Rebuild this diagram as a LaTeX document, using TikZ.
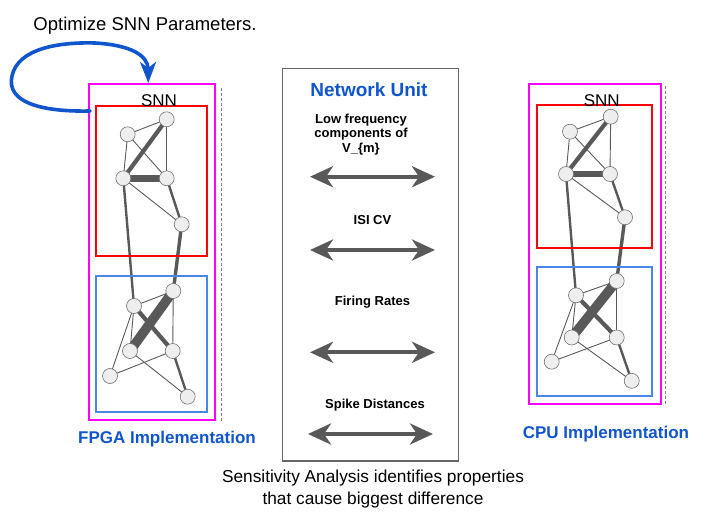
\documentclass[tikz,border=0pt]{standalone}
\usepackage{fontspec}
\setmainfont{Liberation Sans}
\usetikzlibrary{arrows.meta,backgrounds}
\definecolor{edgegray}{HTML}{595959}
\definecolor{nodefill}{HTML}{EEEEEE}
\definecolor{mag}{HTML}{FF00FF}
\definecolor{redbox}{HTML}{FF0000}
\definecolor{bluebox}{HTML}{4A86E8}
\definecolor{titleblue}{HTML}{1155CC}
\definecolor{boxgray}{HTML}{666666}
\newcommand{\snnedges}[1]{%
  \draw[ethin] (#1n1.center) -- (#1n2.center);
  \draw[ethin] (#1n1.center) -- (#1n3.center);
  \draw[ethin] (#1n2.center) -- (#1n4.center);
  \draw[ethin] (#1n1.center) -- (#1n4.center);
  \draw[ethin] (#1n3.center) -- (#1n5.center);
  \draw[ethin] (#1n6.center) -- (#1n7.center);
  \draw[ethin] (#1n7.center) -- (#1n9.center);
  \draw[ethin] (#1n6.center) -- (#1n8.center);
  \draw[ethin] (#1n6.center) -- (#1n10.center);
  \draw[ethin] (#1n10.center) -- (#1n9.center);
  \draw[ethin] (#1n8.center) -- (#1n11.center);
  \draw[emed] (#1n4.center) -- (#1n5.center);
  \draw[emed] (#1n3.center) -- (#1n6.center);
  \draw[emed] (#1n9.center) -- (#1n11.center);
  \draw[emedb] (#1n5.center) -- (#1n7.center);
  \draw[ethick] (#1n2.center) -- (#1n3.center);
  \draw[ethick] (#1n6.center) -- (#1n9.center);
  \draw[evthick] (#1n3.center) -- (#1n4.center);
  \draw[ebar] (#1n7.center) -- (#1n8.center);
}
\begin{document}
\begin{tikzpicture}[x=1pt,y=-1pt,
  neuron/.style={circle, draw=edgegray!85, fill=nodefill, minimum size=15pt, inner sep=0pt, line width=0.6pt},
  ethin/.style={draw=edgegray, line width=0.9pt},
  emed/.style={draw=edgegray, line width=2.4pt},
  emedb/.style={draw=edgegray, line width=3.4pt},
  ethick/.style={draw=edgegray, line width=4.2pt},
  evthick/.style={draw=edgegray, line width=6.5pt},
  ebar/.style={draw=edgegray, line width=9.5pt},
  frame/.style={line width=1.8pt},
  dashline/.style={draw=gray, line width=0.7pt, dash pattern=on 3pt off 2pt},
  bigarrow/.style={draw=edgegray, line width=4pt, {Stealth[length=23pt,width=21pt,inset=7pt]}-{Stealth[length=23pt,width=21pt,inset=7pt]}},
  lbl/.style={font=\bfseries\fontsize{13}{14.5}\selectfont, align=center, inner sep=0pt},
  impl/.style={font=\bfseries\fontsize{17}{20}\selectfont, text=titleblue, inner sep=0pt},
  snnlbl/.style={font=\fontsize{17}{20}\selectfont, inner sep=0pt}
]
\useasboundingbox (0,0) rectangle (704,518);

% ---------- left SNN (FPGA) ----------
\draw[frame, draw=mag] (89,84) rectangle (215,420);
\draw[frame, draw=redbox] (96,106) rectangle (207,256);
\draw[frame, draw=bluebox] (96,276) rectangle (207,412);
\draw[dashline] (221,88) -- (221,422);
\node[snnlbl] (snnL) at (159,101) {SNN};

\node[neuron] (Ln1) at (127.7,134.3) {};
\node[neuron] (Ln2) at (166.7,119.3) {};
\node[neuron] (Ln3) at (123.3,178.3) {};
\node[neuron] (Ln4) at (166.7,178.3) {};
\node[neuron] (Ln5) at (181.7,224.3) {};
\node[neuron] (Ln6) at (134,306) {};
\node[neuron] (Ln7) at (173.3,291) {};
\node[neuron] (Ln8) at (130,351) {};
\node[neuron] (Ln9) at (172.7,351) {};
\node[neuron] (Ln10) at (110,376) {};
\node[neuron] (Ln11) at (187.7,396.7) {};
\begin{scope}[on background layer]
  \snnedges{L}
\end{scope}
\node[impl] (fpga) at (167,439) {FPGA Implementation};

% ---------- right SNN (CPU) ----------
\draw[frame, draw=mag] (529,84.3) rectangle (660.7,404);
\draw[frame, draw=redbox] (537.3,105) rectangle (651.7,248);
\draw[frame, draw=bluebox] (537.3,266.7) rectangle (651.7,395.7);
\draw[dashline] (665.7,86) -- (665.7,406);
\node[snnlbl] (snnR) at (601.7,100.7) {SNN};

\node[neuron] (Rn1) at (570,131.7) {};
\node[neuron] (Rn2) at (610.7,116.7) {};
\node[neuron] (Rn3) at (566,174) {};
\node[neuron] (Rn4) at (610,174) {};
\node[neuron] (Rn5) at (625,217.3) {};
\node[neuron] (Rn6) at (576,295.3) {};
\node[neuron] (Rn7) at (616.7,281) {};
\node[neuron] (Rn8) at (571.7,337.5) {};
\node[neuron] (Rn9) at (616.7,337.5) {};
\node[neuron] (Rn10) at (551.7,361.7) {};
\node[neuron] (Rn11) at (631.7,380.8) {};
\begin{scope}[on background layer]
  \snnedges{R}
\end{scope}
\node[impl] (cpu) at (606,434) {CPU Implementation};

% ---------- network unit ----------
\draw[draw=boxgray, line width=1.1pt] (282.7,68.3) rectangle (458.3,461);
\node[font=\bfseries\fontsize{19}{22}\selectfont, text=titleblue, inner sep=0pt] (nu) at (369,90) {Network Unit};
\node[lbl] (l1) at (361,134.5) {Low frequency\\components of\\V\_\{m\}};
\node[lbl] (l2) at (372.5,220) {ISI CV};
\node[lbl] (l3) at (372.5,301.7) {Firing Rates};
\node[lbl] (l4) at (375,405) {Spike Distances};

\coordinate (a1l) at (310,176.7); \coordinate (a1r) at (435,176.7);
\coordinate (a2l) at (310,250);   \coordinate (a2r) at (435,250);
\coordinate (a3l) at (310,352.3); \coordinate (a3r) at (435,352.3);
\coordinate (a4l) at (308,434);   \coordinate (a4r) at (433,434);
\draw[bigarrow] (a1l) -- (a1r);
\draw[bigarrow] (a2l) -- (a2r);
\draw[bigarrow] (a3l) -- (a3r);
\draw[bigarrow] (a4l) -- (a4r);

% ---------- optimisation loop ----------
\node[font=\fontsize{18.5}{22}\selectfont, inner sep=0pt] (opt) at (145,26) {Optimize SNN Parameters.};
\coordinate (loopstart) at (90,111);
\coordinate (loopend) at (148.3,83);
\draw[draw=titleblue, line width=3.6pt, line cap=round, -{Stealth[length=21pt,width=16pt,inset=6pt]}]
  (loopstart) .. controls (40,112) and (6,102) .. (12,76)
  .. controls (18,48) and (60,42) .. (95,43)
  .. controls (130,45) and (148,55) .. (loopend);

% ---------- caption ----------
\node[font=\fontsize{17.3}{22}\selectfont, align=center, inner sep=0pt] (cap) at (373,489)
  {Sensitivity Analysis identifies properties\\that cause biggest difference};
\end{tikzpicture}
\end{document}
